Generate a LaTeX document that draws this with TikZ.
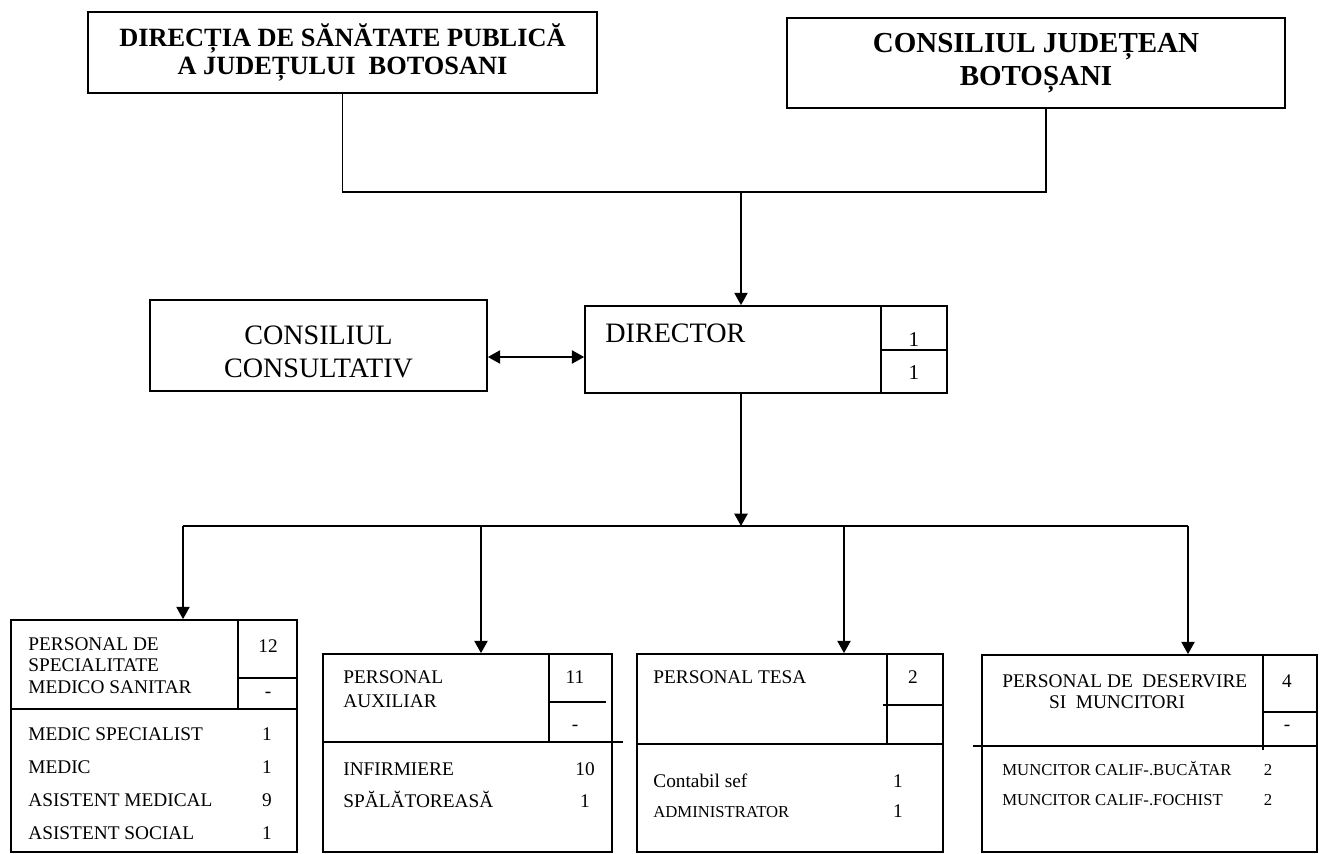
\documentclass[tikz,border=0pt]{standalone}
\usepackage{fontspec}
\setmainfont{Liberation Serif}
\usetikzlibrary{arrows.meta}

\tikzset{
  box/.style={draw, line width=1pt, inner sep=0pt},
  link/.style={line width=1pt},
  arr/.style={line width=1pt, -{Triangle[length=7pt,width=7.5pt]}},
  arrboth/.style={line width=1pt, {Triangle[length=7pt,width=7.5pt]}-{Triangle[length=7pt,width=7.5pt]}},
  big/.style={font=\fontsize{16}{19}\selectfont, inner sep=0pt},
  head/.style={font=\fontsize{11}{12.5}\selectfont, anchor=base west, inner sep=0pt},
  small/.style={font=\fontsize{9.5}{11}\selectfont, anchor=base west, inner sep=0pt},
  num/.style={font=\fontsize{11}{12.5}\selectfont, anchor=base, inner sep=0pt},
  numsmall/.style={font=\fontsize{9.5}{11}\selectfont, anchor=base, inner sep=0pt},
}

\begin{document}
\begin{tikzpicture}[x=0.02cm, y=-0.02cm]
\useasboundingbox (0,0) rectangle (1321,854);

% conducere
\node[box, minimum width=10.18cm, minimum height=1.62cm, align=center,
  font=\bfseries\fontsize{15}{16}\selectfont] (dsp) at (342.5,52.5)
  {DIRECȚIA DE SĂNĂTATE PUBLICĂ\\A JUDEȚULUI\ \ BOTOSANI};
\node[box, minimum width=9.96cm, minimum height=1.8cm, align=center,
  font=\bfseries\fontsize{16.5}{19}\selectfont] (cj) at (1036,63)
  {CONSILIUL JUDEȚEAN\\BOTOȘANI};

\coordinate (top) at (741,192);
\draw[link] (dsp.south) |- (top) -| ([xshift=0.2cm]cj.south);

% director
\node[box, minimum width=7.24cm, minimum height=1.74cm] (dir) at (766,349.5) {};
\draw[link] (881,306) -- (881,393);
\draw[link] (881,350) -- (947,350);
\node[big, anchor=base west] (dirtxt) at (605,343) {DIRECTOR};
\node[big, anchor=base, font=\fontsize{12}{14}\selectfont] (dirn1) at (914,347) {1};
\node[big, anchor=base, font=\fontsize{12}{14}\selectfont] (dirn2) at (914,380) {1};
\draw[arr] (top) -- (top |- dir.north);

% consiliul consultativ
\node[box, minimum width=6.74cm, minimum height=1.82cm] (cons) at (318.5,345.5) {};
\node[big, align=center] (constxt) at (318.5,352) {CONSILIUL\\CONSULTATIV};
\coordinate (cc) at (0,357);
\draw[arrboth] (cons.east |- cc) -- (dir.west |- cc);

% compartimente
\node[box, minimum width=5.72cm, minimum height=4.64cm] (psms) at (154,736) {};
\node[box, minimum width=5.78cm, minimum height=3.96cm] (pa) at (467.5,753) {};
\node[box, minimum width=6.12cm, minimum height=3.96cm] (tesa) at (790,753) {};
\node[box, minimum width=6.7cm, minimum height=3.94cm] (des) at (1149.5,753.5) {};

\coordinate (br) at (741,526);
\draw[arr] (dir.south -| br) -- (br);
\draw[link] (183,526) -- (1188,526);
\foreach \b/\x in {psms/183, pa/481, tesa/844, des/1188} {
  \coordinate (a\b) at (\x,526);
  \draw[arr] (a\b) -- (a\b |- \b.north);
}

% PERSONAL DE SPECIALITATE
\draw[link] (238,620) -- (238,709);
\draw[link] (238,678) -- (297,678);
\draw[link] (11,709) -- (297,709);
\foreach \t [count=\i] in {PERSONAL DE, SPECIALITATE, MEDICO SANITAR}
  \node[head] (psmsh\i) at (28,{650+21.5*(\i-1)}) {\t};
\node[num] (psmsa) at (268,652) {12};
\node[num] (psmsb) at (268,697) {-};
\foreach \t/\n [count=\i] in {MEDIC SPECIALIST/1, MEDIC/1, ASISTENT MEDICAL/9, ASISTENT SOCIAL/1} {
  \node[head] (psmsr\i) at (28,{740+33.3*(\i-1)}) {\t};
  \node[num] (psmsn\i) at (267,{740+33.3*(\i-1)}) {\n};
}

% PERSONAL AUXILIAR
\draw[link] (549,654) -- (549,742);
\draw[link] (549,702) -- (606,702);
\draw[link] (323,742) -- (623,742);
\node[head] (pah1) at (343,683) {PERSONAL};
\node[head] (pah2) at (343,707) {AUXILIAR};
\node[num] (paa) at (575,683) {11};
\node[num] (pab) at (575,730) {-};
\foreach \t/\n [count=\i] in {INFIRMIERE/10, SPĂLĂTOREASĂ/1} {
  \node[head] (par\i) at (343,{775+32*(\i-1)}) {\t};
  \node[num] (pan\i) at (585,{775+32*(\i-1)}) {\n};
}

% PERSONAL TESA
\draw[link] (887,654) -- (887,744);
\draw[link] (883,705) -- (943,705);
\draw[link] (637,744) -- (943,744);
\node[head] (tesah) at (653,683) {PERSONAL TESA};
\node[num] (tesaa) at (913,683) {2};
\node[head] (tesar1) at (653,787) {Contabil sef};
\node[small] (tesar2) at (653,817) {ADMINISTRATOR};
\node[num] (tesan1) at (898,787) {1};
\node[num] (tesan2) at (898,817) {1};

% PERSONAL DE DESERVIRE
\draw[link] (1263,655) -- (1263,750);
\draw[link] (1263,712) -- (1317,712);
\draw[link] (973,746) -- (1317,746);
\node[head] (desh1) at (1002,687) {PERSONAL DE\ \ DESERVIRE};
\node[num] (desh2) at (1117,708) {SI\ \ MUNCITORI};
\node[num] (desa) at (1287,687) {4};
\node[num] (desb) at (1287,730) {-};
\foreach \t/\n [count=\i] in {MUNCITOR CALIF-.BUCĂTAR/2, MUNCITOR CALIF-.FOCHIST/2} {
  \node[small] (desr\i) at (1002,{775+30*(\i-1)}) {\t};
  \node[numsmall] (desn\i) at (1268,{775+30*(\i-1)}) {\n};
}
\end{tikzpicture}
\end{document}
